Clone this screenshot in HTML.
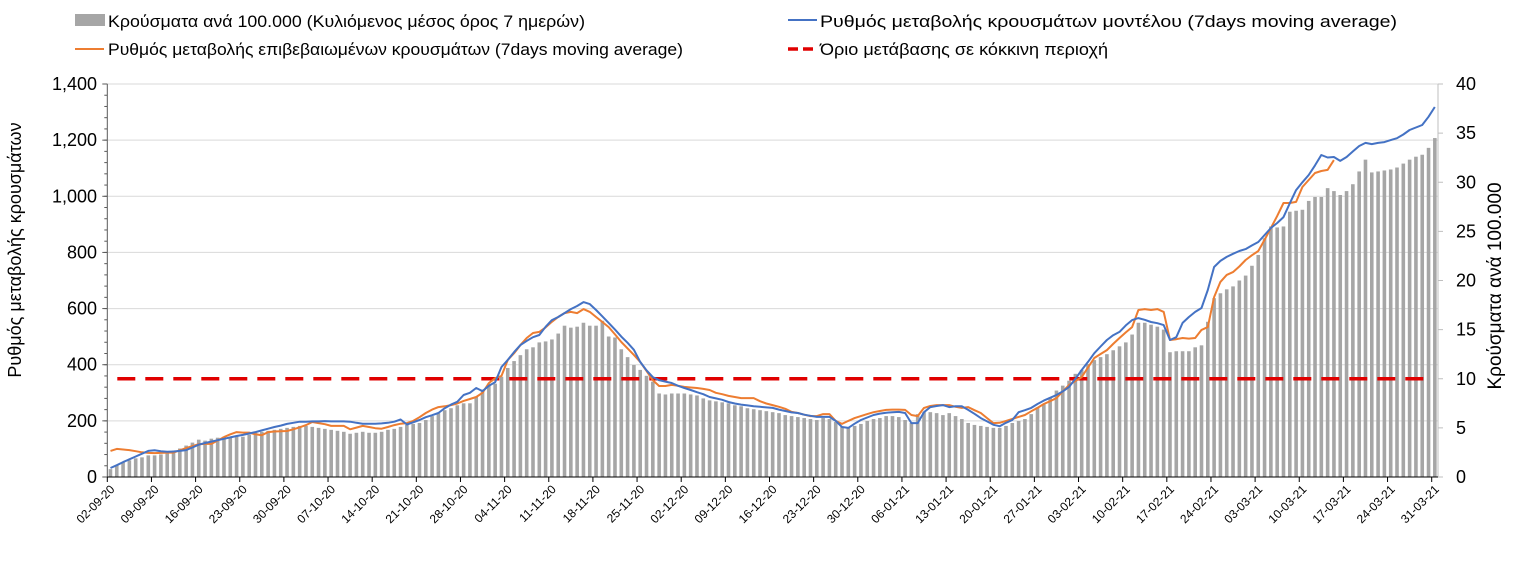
<!DOCTYPE html>
<html><head><meta charset="utf-8">
<style>
html,body{margin:0;padding:0;background:#fff;}
svg{display:block;font-family:"Liberation Sans","DejaVu Sans",sans-serif;}
</style></head>
<body>
<svg id="chart" width="1521" height="569" viewBox="0 0 1521 569" xmlns="http://www.w3.org/2000/svg">
<g id="legend">
  <g>
    <rect x="75" y="14" width="30" height="12" fill="#a6a6a6"/>
    <text x="108" y="27" font-size="17" textLength="477" lengthAdjust="spacingAndGlyphs" fill="#000">Κρούσματα ανά 100.000 (Κυλιόμενος μέσος όρος 7 ημερών)</text>
  </g>
  <g>
    <line x1="788" y1="20" x2="817" y2="20" stroke="#4472c4" stroke-width="2"/>
    <text x="820" y="27" font-size="17" textLength="577" lengthAdjust="spacingAndGlyphs" fill="#000">Ρυθμός μεταβολής κρουσμάτων μοντέλου (7days moving average)</text>
  </g>
  <g>
    <line x1="75" y1="49" x2="104" y2="49" stroke="#ed7d31" stroke-width="2"/>
    <text x="108" y="55" font-size="17" textLength="575" lengthAdjust="spacingAndGlyphs" fill="#000">Ρυθμός μεταβολής επιβεβαιωμένων κρουσμάτων (7days moving average)</text>
  </g>
  <g>
    <line x1="788" y1="49" x2="817" y2="49" stroke="#e00000" stroke-width="3.5" stroke-dasharray="10,5"/>
    <text x="820" y="55" font-size="17" textLength="288" lengthAdjust="spacingAndGlyphs" fill="#000">Όριο μετάβασης σε κόκκινη περιοχή</text>
  </g>
</g>
<g id="grid"></g>
<g id="bars"></g>
<g id="axes"></g>
<g id="lines"></g>
<text transform="translate(21,250) rotate(-90)" text-anchor="middle" font-size="18">Ρυθμός μεταβολής κρουσμάτων</text>
<text transform="translate(1501,286) rotate(-90)" text-anchor="middle" font-size="19">Κρούσματα ανά 100.000</text>
</svg>
<script>
const tickLabels = ["02-09-20","09-09-20","16-09-20","23-09-20","30-09-20","07-10-20","14-10-20","21-10-20","28-10-20","04-11-20","11-11-20","18-11-20","25-11-20","02-12-20","09-12-20","16-12-20","23-12-20","30-12-20","06-01-21","13-01-21","20-01-21","27-01-21","03-02-21","10-02-21","17-02-21","24-02-21","03-03-21","10-03-21","17-03-21","24-03-21","31-03-21"];
const leftTicks = [0,200,400,600,800,1000,1200,1400];
const rightTicks = [0,5,10,15,20,25,30,35,40];
const redThreshold = 350;
const cases = [0.8,1.2,1.5,1.7,1.9,2.0,2.2,
2.2,2.3,2.5,2.7,2.9,3.2,3.5,
3.8,3.7,3.9,4.0,4.1,4.0,4.2,
4.1,4.3,4.5,4.6,4.7,4.8,4.9,
5.0,5.1,5.2,5.2,5.1,5.0,4.9,
4.8,4.7,4.6,4.4,4.5,4.6,4.5,
4.5,4.6,4.8,4.9,5.1,5.3,5.4,
5.5,5.8,6.2,6.5,6.8,7.0,7.3,
7.5,7.5,8.2,8.9,9.5,9.5,10.2,
11.1,11.8,12.4,13.0,13.2,13.7,13.8,
14.0,14.6,15.4,15.2,15.3,15.7,15.4,
15.4,15.9,14.3,14.2,13.0,12.2,11.4,
10.9,10.3,9.7,8.5,8.4,8.5,8.5,
8.5,8.4,8.3,8.0,7.8,7.7,7.6,
7.5,7.3,7.2,7.0,6.9,6.8,6.7,
6.6,6.5,6.3,6.2,6.1,6.0,5.9,
5.8,6.0,5.9,5.6,5.1,5.0,5.2,
5.4,5.7,5.9,6.0,6.2,6.2,6.1,
5.8,5.5,6.4,6.6,6.6,6.5,6.3,
6.5,6.2,5.9,5.5,5.3,5.2,5.1,
5.0,5.0,5.2,5.5,5.7,5.9,6.4,
7.1,7.4,8.1,8.8,9.3,9.8,10.5,
10.9,11.5,11.9,12.2,12.5,12.9,13.3,
13.7,14.5,15.7,15.7,15.5,15.3,15.0,
12.7,12.8,12.8,12.8,13.2,13.4,15.8,
18.2,18.7,19.1,19.4,20.0,20.5,21.5,
22.6,24.3,25.5,25.4,25.5,27.0,27.1,
27.2,28.1,28.5,28.5,29.4,29.1,28.7,
29.1,29.8,31.1,32.3,31.0,31.1,31.2,
31.3,31.5,31.9,32.3,32.6,32.8,33.5,
34.5];
const modelRate = [32,42,53,63,73,83,93,
95,92,90,91,93,96,105,
115,121,126,131,136,141,146,
150,155,160,166,172,178,183,
189,193,197,197,198,198,199,
198,198,198,197,193,190,190,
190,191,193,197,205,187,195,
203,213,220,228,245,258,268,
292,300,317,306,325,338,392,
417,445,470,485,498,506,535,
559,570,584,598,609,623,616,
595,572,549,525,500,478,453,
410,380,356,345,340,335,325,
317,310,302,295,285,280,275,
267,262,258,255,252,250,248,
246,240,235,230,228,222,218,
214,214,214,200,178,175,190,
203,212,221,226,229,231,232,
228,192,192,231,249,253,256,
249,252,252,239,225,210,198,
186,181,193,203,231,238,246,
260,272,282,292,305,321,350,
381,410,441,465,488,505,517,
540,559,566,560,552,548,541,
488,498,549,570,588,602,666,
748,770,784,795,805,812,825,
837,862,887,905,926,975,1022,
1050,1076,1110,1147,1138,1140,1126,
1140,1160,1179,1190,1186,1190,1193,
1200,1207,1220,1236,1245,1254,1283,
1318];
const confirmedRate = [93,100,98,96,92,88,86,
85,86,87,87,95,103,110,
117,118,118,130,142,152,160,
158,158,152,149,160,162,163,
164,170,177,185,196,192,188,
182,182,182,170,176,182,178,
174,172,178,185,190,192,200,
213,228,240,249,252,256,262,
271,278,285,300,335,352,360,
417,441,470,495,513,517,533,
553,570,584,588,584,598,588,
570,552,534,508,481,458,435,
410,378,345,324,324,328,325,
321,319,317,314,310,300,295,
289,285,281,281,281,270,262,
256,250,243,232,228,222,217,
217,224,224,200,189,200,210,
217,224,231,235,239,240,240,
239,221,217,246,253,256,256,
256,250,246,249,238,228,210,
192,193,200,207,214,221,234,
246,260,270,281,305,328,342,
356,390,424,438,452,474,495,
515,534,595,598,595,598,588,
488,491,495,493,495,524,534,
641,695,720,730,750,773,790,
805,845,887,930,976,976,980,
1033,1058,1083,1090,1094,1129];

const NS = "http://www.w3.org/2000/svg";
const X0 = 107.3, X1 = 1438, Y0 = 477, YTOP = 84;
const nDays = cases.length;
const slot = (X1 - X0) / nDays;
function xc(i){ return X0 + slot*(i+0.5); }
function yL(v){ return Y0 - (Y0-YTOP)*v/1400; }
function yR(v){ return Y0 - (Y0-YTOP)*v/40; }
function mk(tag, attrs, parent){
  const e = document.createElementNS(NS, tag);
  for (const k in attrs) e.setAttribute(k, attrs[k]);
  parent.appendChild(e);
  return e;
}
const grid = document.getElementById('grid');
const axes = document.getElementById('axes');
const bars = document.getElementById('bars');
const lines = document.getElementById('lines');

leftTicks.forEach(v => {
  const y = yL(v);
  if (v > 0) {
    const g = mk('line', {x1:X0, x2:X1, y1:y, y2:y, stroke:'#d9d9d9', 'stroke-width':1}, grid);
    
    
  }
  const t = mk('text', {x:97, y:y+6, 'text-anchor':'end', 'font-size':18, fill:'#000'}, axes);
  t.textContent = v.toLocaleString('en-US');
  
  
  mk('line', {x1:X0-5, x2:X0, y1:y, y2:y, stroke:'#595959', 'stroke-width':1}, axes);
});
for (let v = 0; v <= 1400; v += 40) {
  const y = yL(v);
  mk('line', {x1:X0-3, x2:X0, y1:y, y2:y, stroke:'#595959', 'stroke-width':1}, axes);
}
rightTicks.forEach(v => {
  const y = yR(v);
  const t = mk('text', {x:1456, y:y+6, 'font-size':18, fill:'#000'}, axes);
  t.textContent = v;
  
  
  mk('line', {x1:X1, x2:X1+5, y1:y, y2:y, stroke:'#bfbfbf', 'stroke-width':1}, axes);
});

cases.forEach((v, i) => {
  const y = yR(v);
  const b = mk('rect', {x:xc(i)-1.8, y:y, width:3.6, height:Y0-y, fill:'#a6a6a6'}, bars);
  
  
});

mk('line', {x1:X0, x2:X0, y1:YTOP, y2:Y0, stroke:'#595959', 'stroke-width':1}, axes);
mk('line', {x1:X1, x2:X1, y1:YTOP, y2:Y0, stroke:'#bfbfbf', 'stroke-width':1}, axes);
mk('line', {x1:X0, x2:X1, y1:Y0, y2:Y0, stroke:'#000', 'stroke-width':1}, axes);
tickLabels.forEach((lab, k) => {
  const x = X0 + slot*7*k;
  mk('line', {x1:x, x2:x, y1:Y0, y2:Y0+5, stroke:'#000', 'stroke-width':1}, axes);
  const t = mk('text', {x:0, y:0, 'text-anchor':'end', 'font-size':12, fill:'#000',
    transform:'translate(' + (x+8) + ',' + (Y0+13) + ') rotate(-45)'}, axes);
  t.textContent = lab;
  
  
});

const red = mk('line', {x1:X0+10, x2:X1-6, y1:yL(redThreshold), y2:yL(redThreshold), stroke:'#e00000', 'stroke-width':3.5, 'stroke-dasharray':'18,10'}, lines);



function path(arr){ return arr.map((v,i)=>(i?'L':'M')+xc(i).toFixed(1)+','+yL(v).toFixed(1)).join(' '); }
const oLine = mk('path', {d:path(confirmedRate), fill:'none', stroke:'#ed7d31', 'stroke-width':2, 'stroke-linejoin':'round'}, lines);


const bLine = mk('path', {d:path(modelRate), fill:'none', stroke:'#4472c4', 'stroke-width':2, 'stroke-linejoin':'round'}, lines);


</script>
</body></html>
